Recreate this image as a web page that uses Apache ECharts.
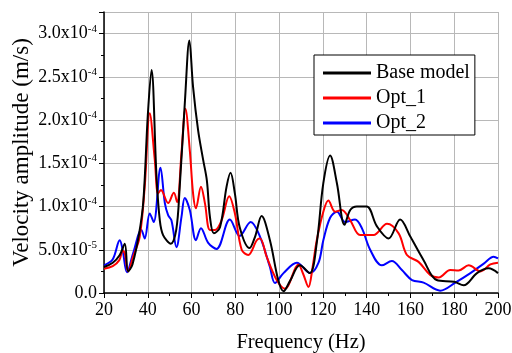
<!DOCTYPE html>
<html>
<head>
<meta charset="utf-8">
<script src="https://cdn.jsdelivr.net/npm/echarts@6/dist/echarts.min.js"></script>
<style>
  html, body { margin: 0; padding: 0; background: #fff; }
  #main { width: 512px; height: 353px; }
</style>
</head>
<body>
<div id="main"></div>
<script>
// frequency (Hz), amplitude in units of 1e-5 m/s
var baseModel = [
  [20, 3.0], [24, 3.5], [27.2, 4.4], [29.5, 5.7], [31, 2.5], [33, 3.3], [36, 6.8], [38, 10.7],
  [40, 20.5], [41.7, 25.8], [44, 13.4], [45.5, 8.4], [47, 6.7], [50.5, 5.7], [53, 7.3],
  [54.6, 12.3], [57, 22.3], [59, 29.2], [60.7, 23.8], [63, 18.8], [65.3, 15.4], [67, 13],
  [68.4, 8.8], [70.2, 6.9], [73, 7.6], [76, 12.3], [77.8, 13.9], [79.8, 11.5], [82, 7.6],
  [86.5, 5.2], [89, 6.5], [92, 8.9], [95.8, 6.1], [99.6, 1.5], [102, 0.2], [105, 1.4],
  [109.5, 3.2], [114, 2.3], [117.2, 5.8], [120.2, 12.7], [123.3, 15.9], [126.4, 12.7],
  [129.9, 7.9], [132.5, 9.6], [135.5, 10.0], [140, 10.0], [144.7, 7.7], [150, 6.3],
  [155.3, 8.5], [160, 6.5], [166, 3.8], [172, 1.5], [180, 1.3], [184.3, 0.9], [190.4, 2.3],
  [195.7, 2.85], [200, 2.3]
]
var opt1 = [
  [20, 2.8], [24, 3.1], [27, 3.8], [28.6, 4.9], [29.5, 4.6], [31, 2.5], [33.3, 4.2], [36.3, 6.5],
  [38.6, 12.3], [40.9, 20.8], [43.2, 15.4], [44.7, 11.5], [46, 11.9], [49.3, 10.4], [51.9, 11.6],
  [53.4, 10.5], [55.4, 16.2], [57.2, 21.3], [59.2, 16.5], [60.7, 11.5], [62, 9.8], [64.3, 12.3],
  [66.1, 10.4], [68.4, 7.3], [70.7, 7.3], [73.7, 8.4], [77.2, 11.2], [79.8, 9.2], [82.9, 5.0],
  [85.9, 4.4], [89.8, 6.1], [91.3, 6.3], [94.3, 4.2], [98.9, 1.5], [102.7, 0.5], [108.8, 3.3],
  [111, 2.2], [113.4, 0.7], [115.3, 3.0], [117.2, 6.1], [120.2, 9.4], [122.5, 10.7],
  [125.6, 9.4], [128.6, 9.6], [132.5, 8.4], [137, 6.7], [143.1, 6.7], [149.3, 8.0],
  [154.6, 6.9], [158.4, 4.4], [163.7, 3.6], [169, 2.1], [172.9, 1.8], [178.2, 2.65],
  [182, 2.6], [186.6, 3.2], [192, 2.5], [196.5, 3.3], [200, 3.5]
]
var opt2 = [
  [20, 3.2], [24, 3.9], [27.2, 6.1], [28.5, 5.0], [30.5, 2.4], [33.3, 4.6], [37.1, 7.3],
  [38.6, 6.3], [40.9, 9.2], [42.7, 8.2], [45.8, 14.5], [47.8, 10.4], [49.3, 9.0], [50.8, 8.4],
  [53.1, 5.3], [55.4, 8.8], [56.9, 11.0], [59.2, 9.6], [62, 6.1], [64.3, 7.5], [67.6, 5.8],
  [71.4, 5.1], [77.5, 8.5], [82, 6.6], [87, 8.2], [91.3, 6.5], [95.8, 3.0], [98.1, 1.15],
  [102, 2.3], [108.1, 3.5], [114.2, 2.3], [118, 3.5], [120.2, 6.1], [123.3, 8.7], [126.4, 9.4],
  [130.2, 8.2], [134.7, 8.5], [137.8, 7.5], [141.6, 5.0], [146.9, 3.2], [151.5, 3.7],
  [156.1, 2.65], [160.7, 1.5], [166, 1.2], [173.6, 0.27], [180.5, 1.2], [187.4, 2.3],
  [193.5, 3.4], [198, 4.2], [200, 4.0]
]
var seriesNames = ['Base model', 'Opt_1', 'Opt_2']
var seriesColors = ['#000000', '#ff0000', '#0000ff']

function scaled(arr) {
  return arr.map(function (p) { return [p[0], p[1] * 1e-5] })
}

// 3.0x10^-4 style labels
function sciLabel(v) {
  if (v === 0) return '{b|0.0}'
  var e = Math.floor(Math.log10(v) + 1e-9)
  var m = v / Math.pow(10, e)
  return '{b|' + m.toFixed(1) + 'x10}{s|' + e + '}'
}

var font = 'Liberation Serif'
var myChart = echarts.init(document.getElementById('main'))

var option = {
  animation: false,
  backgroundColor: '#fff',
  textStyle: { fontFamily: font },
  grid: { left: 104, right: 14, top: 12, bottom: 60, outerBoundsMode: 'none', containLabel: false },
  legend: {
    orient: 'vertical',
    left: 314,
    top: 55,
    padding: [8, 5, 2, 9],
    backgroundColor: '#fff',
    borderColor: '#000',
    borderWidth: 1,
    itemWidth: 48,
    itemHeight: 3,
    itemGap: 5,
    icon: 'rect',
    textStyle: { fontFamily: font, fontSize: 20, color: '#000', padding: [0, 0, 0, 0] },
    data: seriesNames
  },
  xAxis: {
    type: 'value',
    min: 20,
    max: 200,
    interval: 20,
    name: 'Frequency (Hz)',
    nameLocation: 'middle',
    nameGap: 39,
    nameMoveOverlap: false,
    nameTextStyle: { fontFamily: font, fontSize: 20.5, color: '#000' },
    axisLine: { lineStyle: { color: '#000', width: 1.5 } },
    axisTick: { length: 5, lineStyle: { color: '#000' } },
    minorTick: { show: true, splitNumber: 2, length: 3, lineStyle: { color: '#000' } },
    axisLabel: { fontFamily: font, fontSize: 18, color: '#000', margin: 8 },
    splitLine: { show: true, lineStyle: { color: '#b8b8b8', width: 1 } }
  },
  yAxis: {
    type: 'value',
    min: 0,
    max: 3.25e-4,
    interval: 5e-5,
    name: 'Velocity amplitude (m/s)',
    nameLocation: 'middle',
    nameGap: 71,
    nameMoveOverlap: false,
    nameTextStyle: { fontFamily: font, fontSize: 23, color: '#000' },
    axisLine: { show: true, lineStyle: { color: '#000', width: 1.5 } },
    axisTick: { show: true, length: 5, lineStyle: { color: '#000' } },
    minorTick: { show: true, splitNumber: 2, length: 3, lineStyle: { color: '#000' } },
    axisLabel: {
      showMaxLabel: false,
      margin: 7,
      formatter: sciLabel,
      rich: {
        b: { fontFamily: font, fontSize: 18, color: '#000' },
        s: { fontFamily: font, fontSize: 11, color: '#000', padding: [0, 0, 10, 0] }
      }
    },
    splitLine: { show: true, lineStyle: { color: '#b8b8b8', width: 1 } }
  },
  series: [baseModel, opt1, opt2].map(function (d, i) {
    return {
      name: seriesNames[i],
      type: 'line',
      data: scaled(d),
      smooth: 0.35,
      showSymbol: false,
      symbol: 'none',
      z: 10 - i,
      itemStyle: { color: seriesColors[i] },
      lineStyle: { color: seriesColors[i], width: 2 }
    }
  })
}

myChart.setOption(option)
</script>
</body>
</html>
